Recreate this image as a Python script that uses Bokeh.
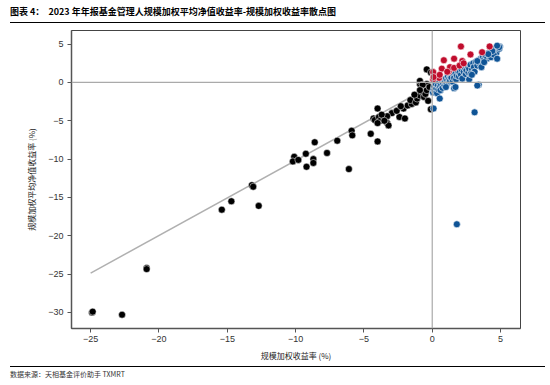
from bokeh.plotting import figure
from bokeh.models import Span, Div, FixedTicker
from bokeh.layouts import column
from bokeh.embed import file_html
from bokeh.resources import INLINE

# ---- data (x: 规模加权收益率 %, y: 规模加权平均净值收益率 %) ----
neg_x = [-24.9, -24.85, -22.7, -20.9, -20.9, -15.4, -14.7, -12.7, -13.2, -13.1,
         -10.1, -10.2, -9.8, -9.25, -8.7, -8.7, -9.2, -7.7, -8.6, -6.1,
         -6.95, -5.9, -5.85, -4.5, -4.0, -4.0, -4.3, -4.2, -3.9, -3.8,
         -4.0, -3.5, -3.3, -3.2, -2.95, -2.4, -3.3, -3.7, -3.5, -2.0,
         -2.1, -1.8, -1.5, -1.6, -1.2, -1.1, -0.9, -0.7, -0.6, -0.5,
         -0.4, -0.9, -0.4, -0.1, -0.4, -0.1, -0.9, -0.7, -0.9, -1.3,
         -2.6, -2.3, -0.2, -0.3]
neg_y = [-30.0, -29.9, -30.3, -24.2, -24.35, -16.6, -15.5, -16.1, -13.4, -13.6,
         -9.7, -10.3, -10.1, -9.3, -10.0, -10.5, -11.0, -9.2, -7.8, -11.3,
         -7.6, -6.3, -6.9, -6.7, -7.7, -3.4, -4.7, -4.9, -4.5, -5.0,
         -5.3, -4.7, -5.3, -5.6, -4.0, -4.5, -4.4, -4.2, -5.0, -4.7,
         -3.4, -3.0, -2.8, -2.3, -2.6, -2.1, -1.7, -1.3, -1.9, -1.5,
         -1.0, -0.2, -0.2, -3.5, 1.7, 1.3, 0.2, -0.3, -1.0, -1.6,
         -3.7, -3.1, -0.6, -2.4]

above_x = [0.07, 0.1, 0.5, 0.7, 0.85, 1.2, 1.3, 1.6, 2.1, 2.2,
           2.8, 1.1, 1.6, 4.2, 3.65, 0.07, 0.1, 2.0, 2.3, 0.55]
above_y = [0.4, 1.1, 0.6, 1.8, 2.9, 1.4, 2.0, 3.1, 4.7, 2.8,
           3.65, 1.4, 1.9, 4.7, 3.95, 1.35, 0.7, 2.2, 2.5, 1.0]

below_x = [0.05, 0.1, 0.15, 0.2, 0.25, 0.3, 0.35, 0.4, 0.45, 0.5,
           0.55, 0.6, 0.65, 0.7, 0.75, 0.8, 0.85, 0.9, 0.95, 1.0,
           1.05, 1.1, 1.15, 1.2, 1.25, 1.3, 1.35, 1.4, 1.5, 1.55,
           1.6, 1.7, 1.75, 1.8, 1.9, 1.95, 2.0, 2.1, 2.15, 2.2,
           2.3, 2.4, 2.45, 2.5, 2.6, 2.65, 2.7, 2.8, 2.9, 3.0,
           3.05, 3.1, 3.2, 3.3, 3.4, 3.5, 3.55, 3.6, 3.7, 3.8,
           3.9, 4.0, 4.1, 4.2, 4.3, 4.4, 4.5, 4.6, 4.7, 4.8,
           4.9, 4.95, 3.4, 3.1, 0.55, 0.1, 1.8, 1.6, 2.7, 2.8,
           3.3, 3.8, 4.3, 4.5, 4.75, 4.9, 4.75, 4.4, 4.1, 1.0,
           1.7, 2.9, 3.3]
below_y = [-1.3, -0.9, -0.5, -1.1, -0.2, -0.8, -1.4, -0.4, -0.9, 0.1,
           -0.6, -1.0, -0.3, 0.2, -0.7, -0.1, 0.4, -0.4, 0.1, 0.5,
           -0.2, 0.3, 0.8, 0.0, 0.5, 0.2, 0.9, 0.6, 0.1, 1.0,
           0.6, 1.2, 0.4, 0.9, 1.4, 0.8, 1.3, 1.0, 1.7, 0.5,
           1.4, 1.9, 1.1, 1.6, 2.1, 1.3, 1.8, 2.3, 1.6, 2.5,
           2.0, 1.4, 2.7, 2.2, 2.9, 2.4, 3.1, 2.0, 3.3, 3.0,
           3.5, 3.1, 3.8, 3.4, 4.0, 3.6, 4.2, 4.4, 3.9, 4.6,
           4.4, 4.7, -0.3, -3.9, -2.1, -3.4, -18.5, -0.75, 0.4, 1.1,
           2.8, 2.65, 3.3, 3.65, 3.1, 4.6, 4.8, 4.1, 3.7, -0.6,
           -0.6, 1.0, -0.4]

fit_x = [-25.0, 5.0]
fit_y = [-24.87, 4.53]

x_ticks = [-25, -20, -15, -10, -5, 0, 5]
y_ticks = [-30, -25, -20, -15, -10, -5, 0, 5]

title_text = "图表 4：&nbsp;&nbsp;2023 年年报基金管理人规模加权平均净值收益率-规模加权收益率散点图"
source_text = "数据来源：天相基金评价助手 TXMRT"
x_label = "规模加权收益率 (%)"
y_label = "规模加权平均净值收益率 (%)"

CJK = "'Noto Sans CJK SC', sans-serif"
TICKF = "'Liberation Sans Narrow', 'Liberation Sans', sans-serif"

W = 550

title_div = Div(
    text=f"<div style=\"font-family:{CJK};font-weight:bold;font-size:9px;color:#000;"
         f"height:23px;line-height:24px;margin-left:10px;width:535px;"
         f"border-bottom:1.6px solid #000;\">{title_text}</div>",
    width=W, height=25, margin=(0, 0, 0, 0))

p = figure(width=W, height=340, output_backend="svg", toolbar_location=None,
           x_range=(-26.4, 6.46), y_range=(-32.1, 6.78),
           min_border_left=71, min_border_right=30, min_border_top=5, min_border_bottom=37,
           margin=(0, 0, 0, 0))
p.grid.visible = False
p.outline_line_color = "#444444"
p.outline_line_width = 1
p.background_fill_color = "white"

for ax in (p.xaxis[0], p.yaxis[0]):
    ax.axis_line_color = "#555555"
    ax.axis_line_width = 1.5
    ax.major_tick_line_color = "#555555"
    ax.major_tick_out = 4
    ax.major_tick_in = 0
    ax.minor_tick_line_color = None
    ax.major_label_text_font = TICKF
    ax.major_label_text_font_size = "9px"
    ax.major_label_text_color = "#333333"
    ax.axis_label_text_font = CJK
    ax.axis_label_text_font_size = "8px"
    ax.axis_label_text_font_style = "normal"
    ax.axis_label_text_color = "#222222"

p.xaxis.ticker = FixedTicker(ticks=x_ticks)
p.yaxis.ticker = FixedTicker(ticks=y_ticks)
p.xaxis.major_label_overrides = {t: str(t).replace("-", "−") for t in x_ticks}
p.yaxis.major_label_overrides = {t: str(t).replace("-", "−") for t in y_ticks}
p.xaxis.axis_label = x_label
p.yaxis.axis_label = y_label
p.xaxis.major_label_standoff = 3
p.yaxis.major_label_standoff = 4
p.xaxis.axis_label_standoff = 5
p.yaxis.axis_label_standoff = 8

p.add_layout(Span(location=0, dimension="width", line_color="#aaaaaa", line_width=1.2))
p.add_layout(Span(location=0, dimension="height", line_color="#aaaaaa", line_width=1.2))

p.line(fit_x, fit_y, line_color="#b0b0b0", line_width=1.5)

p.scatter(neg_x, neg_y, size=7, fill_color="#000000", line_color="white", line_width=0.5)
p.scatter(below_x, below_y, size=7, fill_color="#0f5496", line_color="white", line_width=0.6)
p.scatter(above_x, above_y, size=7, fill_color="#c00d2d", line_color="white", line_width=0.6)

source_div = Div(
    text=f"<div style=\"font-family:{CJK};font-size:7px;color:#333;line-height:15px;"
         f"margin-left:10px;width:535px;border-top:1.6px solid #000;\">{source_text}</div>",
    width=W, height=20, margin=(0, 0, 0, 0))

layout = column(title_div, p, source_div, spacing=0)
open("out.html", "w").write(file_html(layout, INLINE))
